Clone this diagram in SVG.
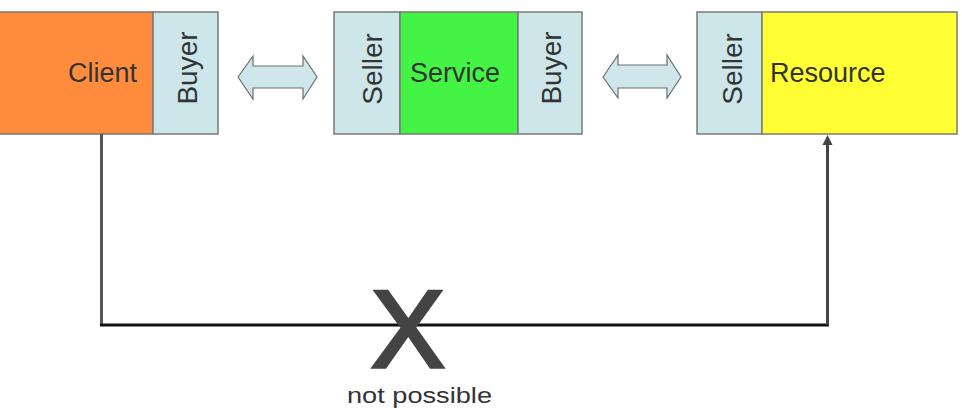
<svg xmlns="http://www.w3.org/2000/svg" width="962" height="408" viewBox="0 0 962 408">
<defs>
<style>
.box{stroke:#7a7a7a;stroke-width:1.5}
.lbl{font-family:"Liberation Sans",Arial,sans-serif;font-size:27px;fill:#333}
.vlbl{font-family:"Liberation Sans",Arial,sans-serif;font-size:28px;fill:#333}
.dbl{fill:#cfe6ea;stroke:#6a7070;stroke-width:1.2}
.conn{fill:none;stroke-width:3}
</style>
</defs>
<rect width="962" height="408" fill="#fff"/>
<g id="client">
<rect class="box" x="-2" y="12" width="155" height="122" fill="#ff8c3c"/>
<text class="lbl" x="137" y="82" text-anchor="end">Client</text>
</g>
<g id="client-buyer">
<rect class="box" x="153" y="12" width="65" height="122" fill="#cce6ea"/>
<text class="vlbl" transform="translate(197,68) rotate(-90)" text-anchor="middle">Buyer</text>
</g>
<g id="service-seller">
<rect class="box" x="334" y="12" width="66" height="122" fill="#cce6ea"/>
<text class="vlbl" transform="translate(382,69) rotate(-90)" text-anchor="middle">Seller</text>
</g>
<g id="service">
<rect class="box" x="400" y="12" width="118" height="122" fill="#44f444"/>
<text class="lbl" x="455" y="82" text-anchor="middle">Service</text>
</g>
<g id="service-buyer">
<rect class="box" x="518" y="12" width="64" height="122" fill="#cce6ea"/>
<text class="vlbl" transform="translate(561,68) rotate(-90)" text-anchor="middle">Buyer</text>
</g>
<g id="resource-seller">
<rect class="box" x="697" y="12" width="65" height="122" fill="#cce6ea"/>
<text class="vlbl" transform="translate(742,69) rotate(-90)" text-anchor="middle">Seller</text>
</g>
<g id="resource">
<rect class="box" x="762" y="12" width="195" height="122" fill="#ffff33"/>
<text class="lbl" x="770" y="82">Resource</text>
</g>
<g id="connectors">
<polygon class="dbl" points="238,77 253,56 253,66 303,66 303,56 317,77 303,99 303,88 253,88 253,99"/>
<polygon class="dbl" points="603,77 618,55 618,65 667,65 667,55 681,77 667,98 667,88 618,88 618,98"/>
<line class="conn" x1="101.5" y1="134" x2="101.5" y2="325" stroke="#555"/>
<line class="conn" x1="100" y1="325" x2="829" y2="325" stroke="#111"/>
<line class="conn" x1="827.5" y1="325" x2="827.5" y2="142" stroke="#444"/>
<polygon points="827.5,135 822.5,145 832.5,145" fill="#444"/>
</g>
<g id="not-possible">
<text x="408" y="367" text-anchor="middle" font-family="Liberation Sans,Arial,sans-serif" font-size="110" fill="#444" stroke="#444" stroke-width="3.5">X</text>
<text x="347" y="403" textLength="145" lengthAdjust="spacingAndGlyphs" font-family="Liberation Sans,Arial,sans-serif" font-size="22" fill="#333">not possible</text>
</g>
</svg>
